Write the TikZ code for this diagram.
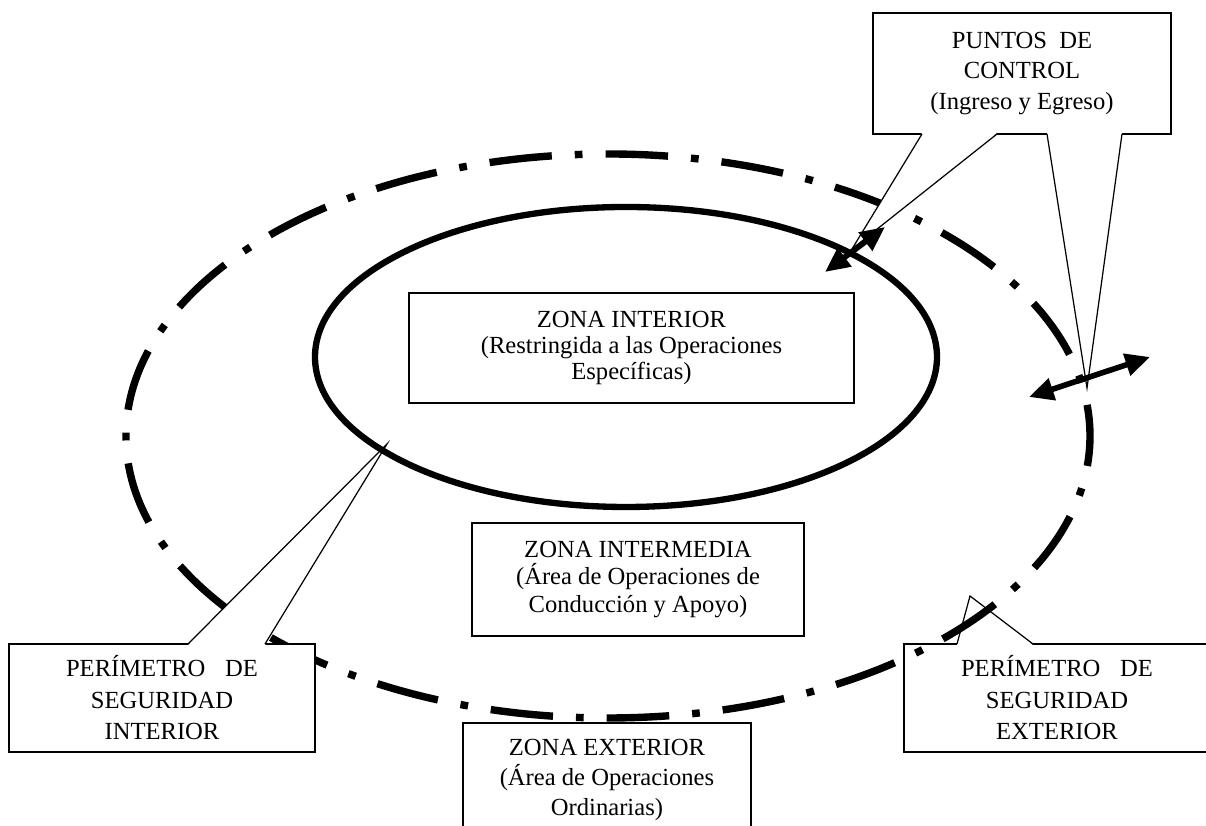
\documentclass[tikz,border=0pt]{standalone}
\usepackage{fontspec}
\setmainfont{Liberation Serif}
\usetikzlibrary{positioning, shapes, arrows.meta}

\begin{document}
\begin{tikzpicture}[box/.style={draw, fill=white, align=center, inner sep=0pt,
      line width=0.7pt, font=\fontsize{14}{#1}\selectfont}, box/.default=17.6,
      ptr/.style={line width=0.7pt},
      perim/.style={line width=4.2pt, dash pattern=on 35.6pt off 13.1pt on 4.4pt off 13.1pt,
      dash phase=17.8pt},
      dbl/.style={{Triangle[length=14pt,width=12.5pt]}-{Triangle[length=14pt,width=12.5pt]},
      line width=3.2pt}]
      \useasboundingbox (0,0) rectangle (24.12,16.52);
      % exterior perimeter callout;
      \node[box=17.9, minimum width=6.12cm, minimum height=2.16cm] (p_ext) at(21.14,2.56)
            {PERÍMETRO\hspace{0.8em}DE\\SEGURIDAD\\EXTERIOR};
      \coordinate (e_1) at(19.14,3.64);
      \coordinate (e_2) at(20.66,3.64);
      \coordinate (e_t) at(19.40,4.60);
      \fill[white] ([yshift=-0.6pt]e_1) -- (e_t) -- ([yshift=-0.6pt]e_2) -- cycle;
      \draw[ptr] (e_1) -- (e_t) -- (e_2);
      % outer perimeter;
      \draw[perim] (12.16,7.80) ellipse [x radius=9.64, y radius=5.64];
      % interior perimeter callout;
      \node[box=17.9, minimum width=6.12cm, minimum height=2.16cm] (p_int) at(3.24,2.56)
            {PERÍMETRO\hspace{0.8em}DE\\SEGURIDAD\\INTERIOR};
      \coordinate (i_1) at(3.76,3.64);
      \coordinate (i_2) at(5.30,3.64);
      \coordinate (i_t) at(7.74,7.64);
      \fill[white] ([yshift=-0.6pt]i_1) -- (i_t) -- ([yshift=-0.6pt]i_2) -- cycle;
      \draw[ptr] (i_1) -- (i_t) -- (i_2);
      % control points callout;
      \node[box=17.6, minimum width=5.96cm, minimum height=2.42cm] (pc) at(20.44,15.05)
            {PUNTOS\ \ DE\\CONTROL\\(Ingreso y Egreso)};
      \coordinate (c_1) at(18.44,13.84);
      \coordinate (c_2) at(19.94,13.84);
      \coordinate (c_t) at(17.04,11.54);
      \coordinate (c_3) at(20.94,13.84);
      \coordinate (c_4) at(22.44,13.84);
      \coordinate (c_s) at(21.74,8.76);
      \fill[white] ([yshift=0.6pt]c_1) -- (c_t) -- ([yshift=0.6pt]c_2) -- cycle;
      \fill[white] ([yshift=0.6pt]c_3) -- (c_s) -- ([yshift=0.6pt]c_4) -- cycle;
      \draw[ptr] (c_1) -- (c_t) -- (c_2);
      \draw[ptr] (c_3) -- (c_s) -- (c_4);
      % zones;
      \node[box=17, minimum width=5.76cm, minimum height=2.28cm] (z_ext) at(12.14,0.92)
            {ZONA EXTERIOR\\(Área de Operaciones\\Ordinarias)};
      \node[box=15.9, minimum width=6.64cm, minimum height=2.26cm] (z_med) at(12.76,4.93)
            {ZONA INTERMEDIA\\(Área de Operaciones de\\Conducción y Apoyo)};
      \draw[line width=3.6pt] (12.52,9.38) ellipse [x radius=6.22, y radius=3.00];
      \node[box=14.8, minimum width=8.90cm, minimum height=2.20cm] (z_int) at(12.63,9.56)
            {ZONA INTERIOR\\(Restringida a las Operaciones\\Específicas)};
      % entry and exit;
      \coordinate (a_1) at(16.50,11.08);
      \coordinate (a_2) at(17.70,11.98);
      \coordinate (b_1) at(20.58,8.58);
      \coordinate (b_2) at(23.00,9.38);
      \draw[dbl] (a_1) -- (a_2);
      \draw[dbl] (b_1) -- (b_2);
\end{tikzpicture}
\end{document}
